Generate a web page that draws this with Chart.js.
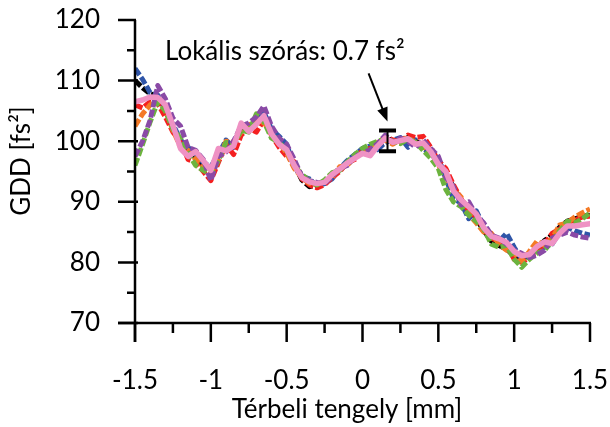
<!DOCTYPE html>
<html>
<head>
<meta charset="utf-8">
<script src="https://cdn.jsdelivr.net/npm/chart.js@4"></script>
<style>
  html, body { margin: 0; padding: 0; background: #fff; }
  #wrap { width: 610px; height: 427px; }
</style>
</head>
<body>
<div id="wrap"><canvas id="chart-gdd"></canvas></div>
<script>
const positions = [-1.5, -1.45, -1.4, -1.35, -1.3, -1.25, -1.2, -1.15, -1.1, -1.05,
    -1.0, -0.95, -0.9, -0.85, -0.8, -0.75, -0.7, -0.65, -0.6, -0.55,
    -0.5, -0.45, -0.4, -0.35, -0.3, -0.25, -0.2, -0.15, -0.1, -0.05,
    0.0, 0.05, 0.1, 0.15, 0.2, 0.25, 0.3, 0.35, 0.4, 0.45,
    0.5, 0.55, 0.6, 0.65, 0.7, 0.75, 0.8, 0.85, 0.9, 0.95,
    1.0, 1.05, 1.1, 1.15, 1.2, 1.25, 1.3, 1.35, 1.4, 1.45, 1.5];

const blackValues = [110.0, 108.8, 107.8, 107.5, 105.5, 102.0, 99.5, 97.8, 97.5, 96.0,
    95.5, 97.5, 99.0, 99.5, 102.5, 101.8, 103.5, 103.8, 101.5, 100.0,
    98.2, 96.2, 93.6, 92.5, 92.8, 93.3, 94.2, 95.6, 96.2, 97.3,
    98.2, 98.4, 99.0, 100.0, 100.4, 100.0, 100.6, 100.0, 99.2, 98.0,
    96.5, 94.5, 92.5, 90.0, 88.8, 87.2, 85.2, 83.5, 82.8, 82.2,
    81.0, 80.8, 81.0, 82.0, 83.6, 84.5, 85.8, 86.8, 87.2, 87.6, 87.8];
const blueValues = [112.0, 110.2, 108.0, 107.6, 105.0, 102.8, 100.2, 99.0, 97.8, 96.5,
    95.8, 97.8, 100.2, 99.0, 102.0, 102.4, 103.2, 104.8, 102.0, 100.8,
    99.5, 95.8, 94.2, 93.8, 92.6, 93.0, 93.8, 95.5, 96.8, 97.8,
    98.8, 99.2, 98.6, 99.8, 100.2, 100.6, 99.0, 100.2, 98.8, 97.8,
    97.2, 93.8, 90.5, 89.8, 87.2, 88.5, 86.0, 84.5, 83.5, 84.8,
    82.5, 80.5, 81.5, 82.2, 82.5, 83.0, 85.0, 85.8, 85.2, 84.8, 84.5];
const redValues = [106.0, 105.5, 106.5, 106.2, 104.0, 101.5, 99.8, 97.0, 96.5, 95.0,
    93.5, 96.5, 99.5, 97.8, 101.0, 102.2, 101.5, 103.5, 101.0, 99.0,
    97.5, 96.6, 93.8, 92.8, 92.3, 92.8, 94.0, 95.0, 96.5, 97.0,
    98.5, 98.8, 99.5, 100.8, 100.2, 99.8, 101.0, 100.6, 100.8, 99.0,
    96.8, 95.5, 92.8, 90.5, 88.5, 87.5, 85.5, 84.0, 83.5, 83.0,
    80.5, 80.0, 80.8, 81.8, 83.0, 84.8, 85.5, 86.5, 87.0, 87.5, 87.6];
const orangeValues = [102.5, 104.5, 106.0, 106.8, 105.2, 101.8, 99.0, 98.5, 97.0, 95.8,
    94.8, 97.0, 100.0, 99.8, 101.5, 102.5, 103.8, 103.0, 101.5, 99.8,
    98.0, 95.5, 94.0, 93.0, 92.8, 93.5, 94.0, 95.8, 96.0, 97.5,
    98.0, 98.5, 99.8, 100.2, 99.5, 100.3, 100.5, 99.8, 99.0, 98.5,
    96.0, 94.0, 92.0, 90.8, 88.0, 86.5, 85.0, 84.8, 83.0, 82.0,
    81.5, 80.2, 81.8, 83.5, 82.8, 84.0, 86.2, 86.5, 87.5, 88.2, 88.8];
const greenValues = [96.0, 99.5, 103.2, 106.5, 105.0, 102.0, 100.5, 98.0, 96.0, 95.2,
    94.5, 96.8, 99.8, 99.5, 101.8, 101.5, 104.5, 103.2, 100.5, 99.8,
    98.5, 96.0, 94.5, 93.5, 92.8, 93.6, 94.8, 95.2, 96.6, 97.8,
    98.8, 99.5, 100.0, 100.3, 100.0, 99.6, 100.4, 99.8, 98.5, 97.2,
    95.5, 92.0, 90.0, 89.2, 87.8, 86.8, 85.5, 83.0, 82.5, 82.8,
    80.5, 79.2, 80.5, 81.5, 82.0, 83.5, 85.2, 86.8, 86.5, 87.2, 88.2];
const purpleValues = [97.5, 100.0, 103.5, 109.2, 107.0, 103.8, 102.5, 99.0, 98.5, 97.0,
    93.5, 97.5, 98.2, 100.0, 102.5, 103.0, 104.0, 105.8, 102.5, 100.5,
    99.5, 97.0, 94.2, 93.5, 93.2, 93.0, 94.2, 95.5, 96.0, 97.5,
    98.0, 98.6, 99.6, 101.0, 99.8, 100.5, 100.0, 99.0, 100.2, 98.8,
    97.5, 94.0, 92.5, 89.5, 90.0, 87.8, 86.5, 84.5, 84.0, 83.0,
    82.0, 81.5, 80.8, 81.2, 82.0, 84.0, 84.5, 85.0, 84.5, 84.2, 84.0];
const pinkValues = [106.5, 106.8, 107.3, 107.2, 106.0, 102.6, 98.8, 97.5, 98.3, 96.8,
    95.2, 98.8, 98.4, 99.2, 103.0, 101.6, 102.8, 104.2, 101.2, 99.5,
    98.6, 96.0, 94.0, 93.3, 93.0, 93.2, 94.5, 95.4, 96.4, 97.2,
    98.0, 97.6, 99.2, 100.5, 99.8, 100.1, 100.4, 99.5, 99.7, 98.3,
    96.2, 95.0, 91.8, 90.3, 89.2, 88.0, 85.7, 84.3, 83.9, 83.3,
    81.8, 81.1, 81.3, 82.6, 83.4, 83.1, 84.8, 86.0, 86.0, 86.2, 86.4];

const xTicks = [-1.5, -1, -0.5, 0, 0.5, 1, 1.5];
const yTicks = [70, 80, 90, 100, 110, 120];

// error bar: position, centre, half height
const errorBarX = 0.165;
const errorBarY = 100.05;
const errorBarHalf = 1.7;

function toPoints(values) {
    return values.map(function (v, i) { return { x: positions[i], y: v }; });
}

function series(label, values, color, order, solid) {
    return {
        label: label,
        data: toPoints(values),
        order: order,
        borderColor: color,
        borderWidth: solid ? 5.5 : 5,
        borderDash: solid ? [] : [8, 2.5],
        borderCapStyle: solid ? 'round' : 'butt',
        borderJoinStyle: 'round',
        pointRadius: 0,
        tension: 0,
        fill: false
    };
}

const font = "Lato, 'Open Sans', sans-serif";

const decorations = {
    id: 'decorations',
    afterDraw: function (chart) {
        const ctx = chart.ctx;
        const xs = chart.scales.x;
        const ys = chart.scales.y;
        const area = chart.chartArea;
        ctx.save();
        ctx.strokeStyle = '#000';
        ctx.fillStyle = '#000';
        ctx.lineWidth = 2.5;
        ctx.lineCap = 'butt';

        // axis lines
        ctx.beginPath();
        ctx.moveTo(area.left, area.top);
        ctx.lineTo(area.left, area.bottom + 19);
        ctx.moveTo(area.left - 17, area.bottom);
        ctx.lineTo(area.right + 1, area.bottom);
        ctx.stroke();

        // y ticks
        ctx.beginPath();
        for (let v = 70; v <= 120; v += 5) {
            const py = ys.getPixelForValue(v);
            if (v % 10 === 0) {
                ctx.moveTo(area.left - 17, py);
                ctx.lineTo(area.left + (v === 120 ? 1 : 3), py);
            } else {
                ctx.moveTo(area.left - 8, py);
                ctx.lineTo(area.left, py);
            }
        }
        // x ticks
        for (let i = 0; i <= 12; i++) {
            const v = -1.5 + i * 0.25;
            const px = xs.getPixelForValue(v);
            ctx.moveTo(px, area.bottom);
            ctx.lineTo(px, area.bottom + (i % 2 === 0 ? 19 : 10));
        }
        ctx.stroke();

        // error bar
        const ex = xs.getPixelForValue(errorBarX);
        const eTop = ys.getPixelForValue(errorBarY + errorBarHalf);
        const eBot = ys.getPixelForValue(errorBarY - errorBarHalf);
        ctx.lineWidth = 2;
        ctx.beginPath();
        ctx.moveTo(ex, eTop);
        ctx.lineTo(ex, eBot);
        ctx.stroke();
        ctx.lineWidth = 4;
        ctx.beginPath();
        ctx.moveTo(ex - 8.5, eTop);
        ctx.lineTo(ex + 8.5, eTop);
        ctx.moveTo(ex - 8.5, eBot);
        ctx.lineTo(ex + 8.5, eBot);
        ctx.stroke();

        // arrow
        const tipX = ex, tipY = eTop - 9;
        const tailX = xs.getPixelForValue(0.04), tailY = ys.getPixelForValue(111.2);
        const ang = Math.atan2(tipY - tailY, tipX - tailX);
        ctx.lineWidth = 2;
        ctx.beginPath();
        ctx.moveTo(tailX, tailY);
        ctx.lineTo(tipX - 10 * Math.cos(ang), tipY - 10 * Math.sin(ang));
        ctx.stroke();
        ctx.beginPath();
        ctx.moveTo(tipX, tipY);
        ctx.lineTo(tipX - 14 * Math.cos(ang) + 5.5 * Math.sin(ang), tipY - 14 * Math.sin(ang) - 5.5 * Math.cos(ang));
        ctx.lineTo(tipX - 14 * Math.cos(ang) - 5.5 * Math.sin(ang), tipY - 14 * Math.sin(ang) + 5.5 * Math.cos(ang));
        ctx.closePath();
        ctx.fill();

        // texts
        ctx.font = '26px ' + font;
        ctx.textAlign = 'left';
        ctx.textBaseline = 'alphabetic';
        ctx.fillText('Lokális szórás: 0.7 fs²', 165, 60);

        ctx.textAlign = 'center';
        ctx.textBaseline = 'middle';
        ctx.fillText('Térbeli tengely [mm]', 347, 410);
        ctx.translate(22, 161);
        ctx.rotate(-Math.PI / 2);
        ctx.fillText('GDD [fs²]', 0, 0);
        ctx.restore();
    }
};

const ctxGdd = document.getElementById('chart-gdd').getContext('2d');
const chartGdd = new Chart(ctxGdd, {
    type: 'line',
    data: {
        datasets: [
            series('1', blackValues, '#000000', 6),
            series('2', blueValues, '#2f55a8', 5),
            series('3', redValues, '#f42020', 4),
            series('4', orangeValues, '#f47a26', 3),
            series('5', greenValues, '#6cb33e', 2),
            series('6', purpleValues, '#8a4aa6', 1),
            series('7', pinkValues, '#ef92c4', 0, true)
        ]
    },
    options: {
        responsive: true,
        maintainAspectRatio: false,
        animation: false,
        layout: { autoPadding: false, padding: { top: 20, right: 20, left: 0, bottom: 0 } },
        plugins: { legend: { display: false }, tooltip: { enabled: false } },
        scales: {
            x: {
                type: 'linear',
                min: -1.5,
                max: 1.5,
                grid: { display: false, drawTicks: false },
                border: { display: false },
                afterFit: function (scale) {
                    scale.height = 104;
                    scale.paddingLeft = 0;
                    scale.paddingRight = 0;
                },
                afterBuildTicks: function (scale) {
                    scale.ticks = xTicks.map(function (v) { return { value: v }; });
                },
                ticks: {
                    padding: 42,
                    maxRotation: 0,
                    autoSkip: false,
                    color: '#000',
                    font: { family: font, size: 26 },
                    callback: function (v) { return String(v); }
                }
            },
            y: {
                min: 70,
                max: 120,
                grid: { display: false, drawTicks: false },
                border: { display: false },
                afterFit: function (scale) {
                    scale.width = 135;
                    scale.paddingTop = 0;
                    scale.paddingBottom = 0;
                },
                afterBuildTicks: function (scale) {
                    scale.ticks = yTicks.map(function (v) { return { value: v }; });
                },
                ticks: {
                    padding: 35,
                    color: '#000',
                    font: { family: font, size: 26 },
                    callback: function (v) { return String(v); }
                }
            }
        }
    },
    plugins: [decorations]
});
</script>
</body>
</html>
